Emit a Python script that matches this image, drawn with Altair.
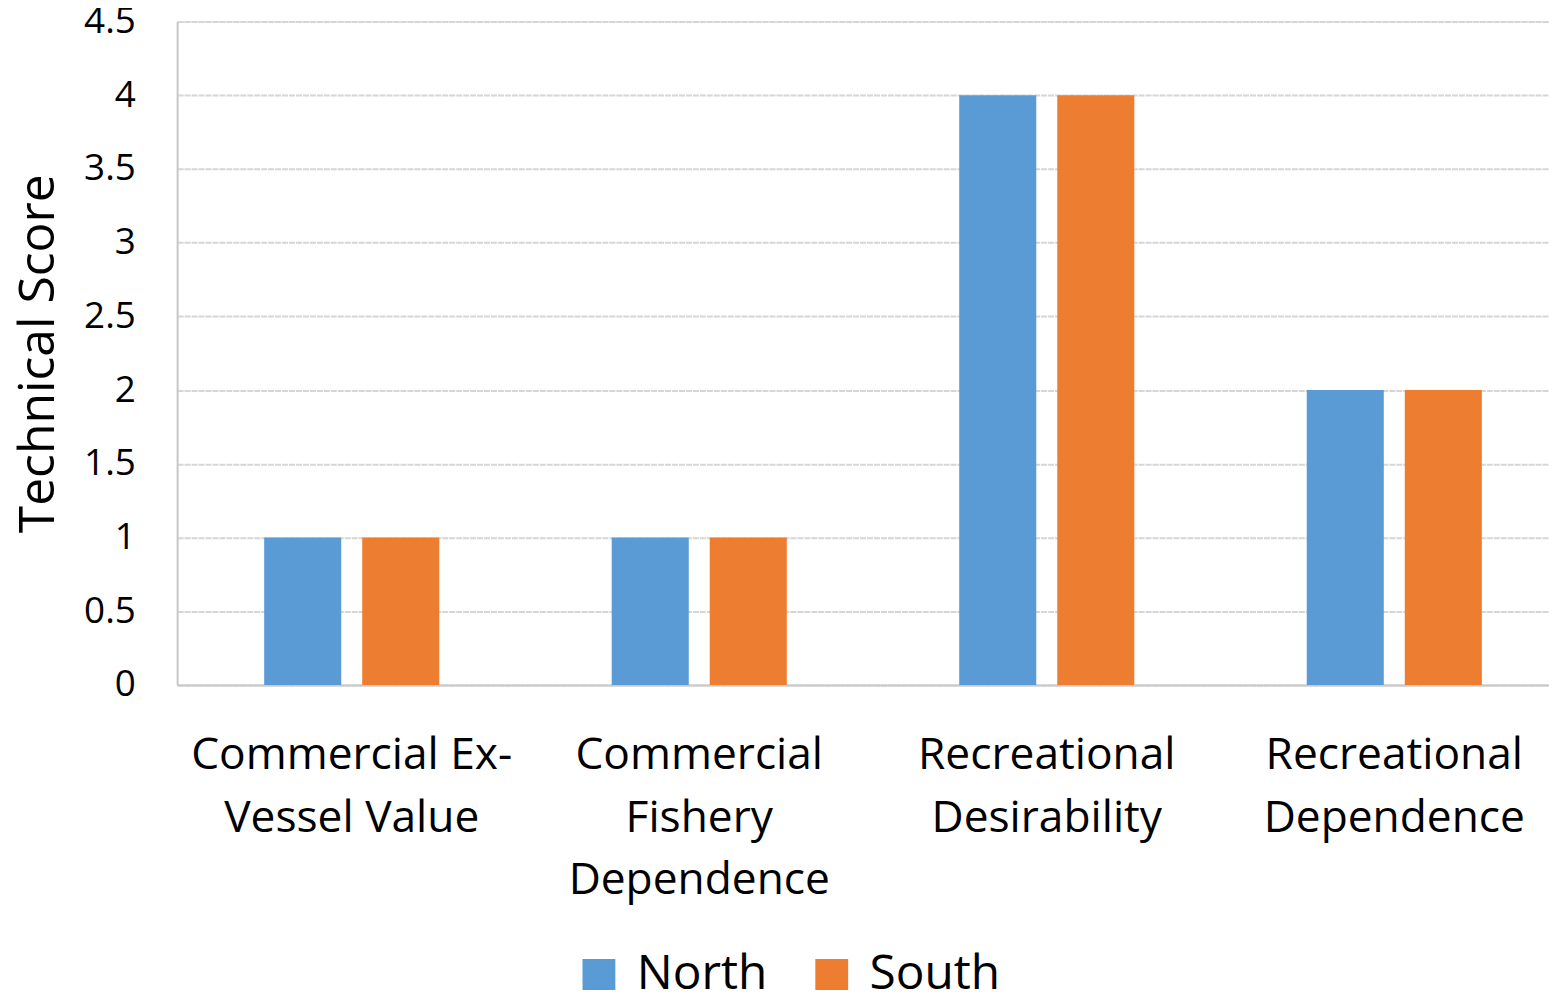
import altair as alt
import pandas as pd

categories = ["Commercial Ex-\nVessel Value", "Commercial\nFishery\nDependence",
              "Recreational\nDesirability", "Recreational\nDependence"]
series = ["North", "South"]
north = [1, 1, 4, 2]
south = [1, 1, 4, 2]
colors = ["#5B9BD5", "#ED7D31"]
y_ticks = [0, 0.5, 1, 1.5, 2, 2.5, 3, 3.5, 4, 4.5]

rows = []
for c, n, s in zip(categories, north, south):
    rows.append({"cat": c, "region": "North", "score": n})
    rows.append({"cat": c, "region": "South", "score": s})
df = pd.DataFrame(rows)

font = "Open Sans"

chart = alt.Chart(df).mark_bar().encode(
    x=alt.X("cat:N", sort=categories, title=None,
            scale=alt.Scale(paddingInner=0.4961, paddingOuter=0.2505, range=[0, 1399]),
            axis=alt.Axis(labelAngle=0, labelExpr="split(datum.label, '\\n')",
                          labelFont=font, labelFontSize=44.5, labelColor="#000000",
                          labelLineHeight=63, labelPadding=49, labelBaseline="top",
                          labelLimit=0,
                          ticks=False, domainColor="#c8c8c8", domainWidth=2,
                          grid=False)),
    xOffset=alt.XOffset("region:N", sort=series,
                        scale=alt.Scale(paddingInner=0.214, paddingOuter=0)),
    y=alt.Y("score:Q", title="Technical Score",
            scale=alt.Scale(domain=[0, 4.5]),
            axis=alt.Axis(values=y_ticks, format="~g",
                          labelFont=font, labelFontSize=37, labelColor="#000000",
                          labelPadding=42, ticks=False, domain=True,
                          domainColor="#c8c8c8", domainWidth=2,
                          gridColor="#d6d6d6", gridWidth=2, gridDash=[6, 1],
                          titleFont=font, titleFontSize=50, titleFontWeight="normal",
                          titleColor="#000000", titlePadding=20)),
    color=alt.Color("region:N", sort=series,
                    scale=alt.Scale(domain=series, range=colors),
                    legend=alt.Legend(title=None, orient="none", direction="horizontal",
                                      legendX=400, legendY=935,
                                      symbolType="square", symbolSize=1089,
                                      symbolStrokeWidth=0, symbolOpacity=1,
                                      labelFont=font, labelFontSize=48,
                                      labelColor="#000000", columnPadding=40,
                                      labelOffset=14)),
).properties(
    width=1379, height=667,
    autosize=alt.AutoSizeParams(type="none"),
    padding={"left": 170, "top": 11, "right": 0, "bottom": 304},
).configure_view(stroke=None).configure(background="white")

chart.save("out.html", embed_options={"renderer": "svg", "actions": False})
